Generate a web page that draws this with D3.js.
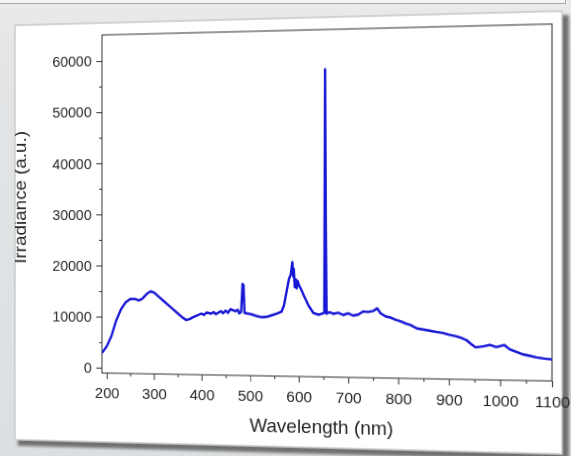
<!DOCTYPE html>
<html>
<head>
<meta charset="utf-8">
<script src="https://cdn.jsdelivr.net/npm/d3@7"></script>
<style>
  html, body { margin: 0; padding: 0; }
  body {
    width: 571px; height: 456px; overflow: hidden; position: relative;
    background: linear-gradient(#e9eaeb 0px, #e3e5e7 60px, #dcdfe1 456px);
    font-family: "Liberation Sans", Arial, sans-serif;
  }
  /* edge of the previous slide peeking in at the top */
  #topbar {
    position: absolute; left: 0; top: 0; width: 565px; height: 3px;
    background: #f4f4f4; border-bottom: 1px solid #a8a8a8; border-right: 1px solid #a8a8a8;
  }
  #chart { position: absolute; left: 0; top: 0; width: 571px; height: 456px; transform-origin: 0 0; }
</style>
</head>
<body>
<div id="topbar"></div>
<div id="chart"></div>
<script>
// spectrum (nm, a.u.)
const wavelengths = [190, 200, 210, 220, 230, 240, 250, 260, 268, 275, 285, 293, 300, 310, 320, 335, 350, 360, 368, 375,
  385, 395, 400, 405, 410, 420, 425, 430, 440, 445, 450, 455, 460, 470, 475, 478, 482, 485, 487, 489,
  495, 505, 515, 525, 535, 545, 555, 565, 570, 575, 580, 584, 587, 589, 590, 592, 594, 596, 598, 600,
  605, 610, 620, 630, 640, 648, 652, 653.5, 655, 656.5, 662, 670, 680, 690, 700, 710, 720, 730, 740, 750,
  758, 765, 775, 785, 795, 805, 815, 825, 837, 850, 862, 875, 889, 900, 915, 925, 935, 945, 952, 960,
  967, 980, 993, 1000, 1008, 1019, 1030, 1045, 1060, 1070, 1085, 1100];
const irradiance = [2900, 4200, 6200, 9200, 11400, 12800, 13500, 13500, 13200, 13500, 14500, 15000, 14800, 14000, 13200, 12000, 10800, 10000, 9500, 9700,
  10200, 10600, 10800, 10500, 11000, 10800, 11100, 10700, 11300, 10900, 11400, 11000, 11700, 11300, 11600, 10900, 11200, 16600, 16300, 11000,
  10900, 10700, 10400, 10200, 10300, 10600, 10900, 11300, 12500, 15000, 17500, 18500, 20800, 18000, 19500, 16000, 17500, 15800, 17200, 16500,
  15600, 14500, 12500, 11100, 10800, 11000, 11200, 57500, 27000, 11000, 11300, 11000, 11200, 10800, 11100, 10700, 10900, 11500, 11400, 11600,
  12100, 11200, 10600, 10400, 10000, 9700, 9300, 9000, 8400, 8200, 8000, 7800, 7600, 7300, 7000, 6700, 6300, 5500, 5000, 5100,
  5200, 5500, 5100, 5300, 5500, 4700, 4300, 3800, 3500, 3300, 3100, 2950];

const xTicks = [200, 300, 400, 500, 600, 700, 800, 900, 1000, 1100];
const xMinorTicks = [250, 350, 450, 550, 650, 750, 850, 950, 1050];
const yTicks = [0, 10000, 20000, 30000, 40000, 50000, 60000];
const yMinorTicks = [5000, 15000, 25000, 35000, 45000, 55000];

const xTitle = "Wavelength (nm)";
const yTitle = "Irradiance (a.u.)";

const W = 571, H = 456;
const plot = { left: 102, right: 552, top: 35, bottom: 373 };

// the screen was photographed at an angle: map the flat drawing onto that trapezoid
const px0 = plot.left, py0 = 230.7, g = -0.0001182, a = 0.9468;
const m = [a + px0 * g, py0 * g, 0, g,
           0, 1, 0, 0,
           0, 0, 1, 0,
           px0 - px0 * px0 * g - px0 * a, -py0 * px0 * g, 0, 1 - px0 * g];
d3.select("#chart").style("transform", "matrix3d(" + m.join(",") + ")");

var svg = d3.select("#chart").append("svg")
  .attr("width", W)
  .attr("height", H);

var defs = svg.append("defs");
defs.append("filter").attr("id", "soft")
  .append("feGaussianBlur").attr("stdDeviation", 1.6);
defs.append("clipPath").attr("id", "cardClip")
  .append("rect").attr("x", 9).attr("y", 23).attr("width", 552.5).attr("height", 419);
defs.append("clipPath").attr("id", "plotClip")
  .append("rect").attr("x", plot.left).attr("y", plot.top - 2)
  .attr("width", plot.right - plot.left).attr("height", plot.bottom - plot.top + 2);

// white slide card with its shadow
svg.append("rect").attr("x", 12).attr("y", 27).attr("width", 556).attr("height", 421)
  .attr("fill", "#6f6f6f").attr("filter", "url(#soft)");
svg.append("rect").attr("x", 9).attr("y", 23).attr("width", 552.5).attr("height", 419)
  .attr("fill", "#ffffff").attr("stroke", "#c8c8c8").attr("stroke-width", 1.5);

var card = svg.append("g");

// scales
var x = d3.scaleLinear().domain([189.9, 1100]).range([plot.left, plot.right]);
var y = d3.scaleLinear().domain([-1040, 65090]).range([plot.bottom, plot.top]);

// frame around the plot
card.append("rect")
  .attr("x", plot.left).attr("y", plot.top)
  .attr("width", plot.right - plot.left).attr("height", plot.bottom - plot.top)
  .attr("fill", "none").attr("stroke", "#444").attr("stroke-width", 1.1);

// x axis, major + minor ticks
var xAxis = card.append("g").attr("transform", "translate(0," + plot.bottom + ")")
  .call(d3.axisBottom(x).tickValues(xTicks).tickSize(6).tickPadding(8).tickFormat(d3.format("d")));
card.append("g").attr("transform", "translate(0," + plot.bottom + ")")
  .call(d3.axisBottom(x).tickValues(xMinorTicks).tickSize(3).tickFormat(""));

// y axis, major + minor ticks
var yAxis = card.append("g").attr("transform", "translate(" + plot.left + ",0)")
  .call(d3.axisLeft(y).tickValues(yTicks).tickSize(6).tickPadding(5).tickFormat(d3.format("d")));
card.append("g").attr("transform", "translate(" + plot.left + ",0)")
  .call(d3.axisLeft(y).tickValues(yMinorTicks).tickSize(3).tickFormat(""));

card.selectAll(".domain").remove();
card.selectAll(".tick line").attr("stroke", "#444").attr("stroke-width", 1.1);
xAxis.selectAll("text").attr("font-size", 15.5).attr("fill", "#262626")
  .attr("font-family", "Liberation Sans, Arial, sans-serif");
yAxis.selectAll("text").attr("font-size", 15).attr("fill", "#262626")
  .attr("font-family", "Liberation Sans, Arial, sans-serif");

// axis titles (the y title is cut by the card edge)
card.append("text")
  .attr("x", (plot.left + plot.right) / 2).attr("y", 428)
  .attr("text-anchor", "middle")
  .attr("font-size", 19).attr("fill", "#262626")
  .text(xTitle);
card.append("g").attr("clip-path", "url(#cardClip)")
  .append("text")
  .attr("transform", "translate(21,197) rotate(-90)")
  .attr("text-anchor", "middle")
  .attr("font-size", 19).attr("fill", "#262626")
  .text(yTitle);

// the spectrum
var spectrum = wavelengths.map((w, i) => [w, irradiance[i]]);
var line = d3.line()
  .x(d => x(d[0]))
  .y(d => y(d[1]));

card.append("path")
  .datum(spectrum)
  .attr("clip-path", "url(#plotClip)")
  .attr("d", line)
  .attr("fill", "none")
  .attr("stroke", "#1717d6")
  .attr("stroke-width", 2.4)
  .attr("stroke-linejoin", "round");
</script>
</body>
</html>
